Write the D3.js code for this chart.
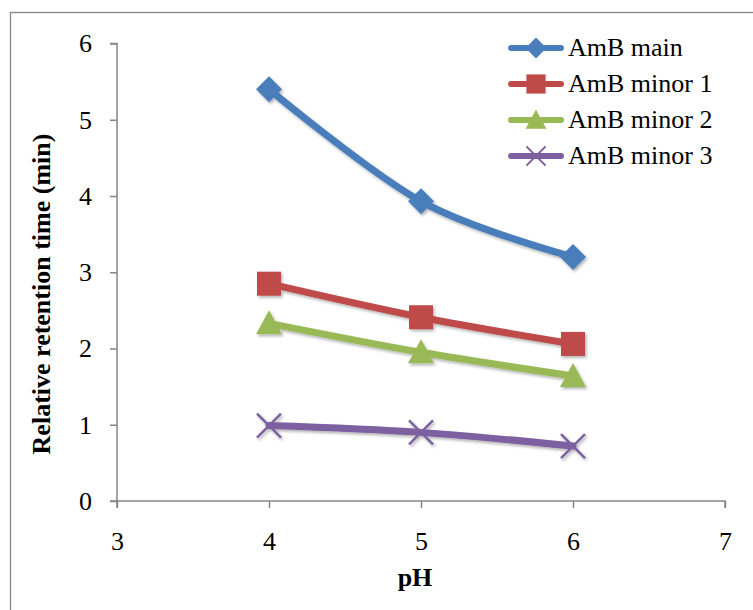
<!DOCTYPE html>
<html><head><meta charset="utf-8">
<script src="https://cdn.jsdelivr.net/npm/d3@7"></script>
<style>body{margin:0;background:#fff}</style>
</head><body>
<script>
const phValues = [4, 5, 6];
const seriesNames = ["AmB main", "AmB minor 1", "AmB minor 2", "AmB minor 3"];
const amBMain = [5.40, 3.93, 3.20];
const amBMinor1 = [2.85, 2.41, 2.06];
const amBMinor2 = [2.33, 1.95, 1.64];
const amBMinor3 = [0.99, 0.90, 0.72];
const xTicks = [3, 4, 5, 6, 7];
const yTicks = [0, 1, 2, 3, 4, 5, 6];
const colors = ["#4a7ebb", "#be4b48", "#98b954", "#7d60a0"];
const markers = ["diamond", "square", "triangle", "x"];

const W = 753, H = 610;
const svg = d3.select("body").append("svg").attr("width", W).attr("height", H);
const defs = svg.append("defs");
const f = defs.append("filter").attr("id", "sh").attr("x", "-50%").attr("y", "-50%").attr("width", "200%").attr("height", "200%");
f.append("feDropShadow").attr("dx", 1.5).attr("dy", 2).attr("stdDeviation", 1.8).attr("flood-color", "#000").attr("flood-opacity", 0.3);

svg.append("rect").attr("x", 10.5).attr("y", 12.5).attr("width", 800).attr("height", 700)
  .attr("fill", "#fff").attr("stroke", "#868686").attr("stroke-width", 1.3);

const x = d3.scaleLinear().domain([3, 7]).range([117, 725]);
const y = d3.scaleLinear().domain([0, 6]).range([501, 43.5]);
const font = "'Liberation Serif','Times New Roman',serif";
const FS = 26;

const xa = svg.append("g").attr("transform", `translate(0,${y(0)})`)
  .call(d3.axisBottom(x).tickValues(xTicks).tickSize(7).tickPadding(24).tickFormat(d3.format("d")));
const ya = svg.append("g").attr("transform", `translate(${x(3)},0)`)
  .call(d3.axisLeft(y).tickValues(yTicks).tickSize(7).tickPadding(18).tickFormat(d3.format("d")));
[xa, ya].forEach(a => {
  a.attr("font-family", font).attr("font-size", FS);
  a.select(".domain").attr("stroke", "#868686").attr("stroke-width", 1.5);
  a.selectAll(".tick line").attr("stroke", "#868686").attr("stroke-width", 1.5);
  a.selectAll("text").attr("font-family", font).attr("font-size", FS).attr("fill", "#000");
});
ya.select(".domain").attr("d", `M-7,${y(6)}H0V${y(0)}H-7`);
xa.select(".domain").attr("d", `M${x(3)},7V0H${x(7)}V7`);

svg.append("text").attr("x", 415).attr("y", 586).attr("text-anchor", "middle")
  .attr("font-family", font).attr("font-weight", "bold").attr("font-size", FS).text("pH");
svg.append("text").attr("transform", "translate(50,294) rotate(-90)").attr("text-anchor", "middle")
  .attr("font-family", font).attr("font-weight", "bold").attr("font-size", FS).text("Relative retention time (min)");

const allSeries = [amBMain, amBMinor1, amBMinor2, amBMinor3];
const line = d3.line().x((d, i) => x(phValues[i])).y(d => y(d)).curve(d3.curveCardinal.tension(0));

function drawMarker(g, type, cx, cy, color) {
  if (type === "diamond") {
    g.append("path").attr("d", `M${cx},${cy-13}L${cx+13},${cy}L${cx},${cy+13}L${cx-13},${cy}Z`).attr("fill", color);
  } else if (type === "square") {
    g.append("rect").attr("x", cx-12).attr("y", cy-12).attr("width", 24).attr("height", 24).attr("fill", color);
  } else if (type === "triangle") {
    g.append("path").attr("d", `M${cx},${cy-13}L${cx+13},${cy+11}L${cx-13},${cy+11}Z`).attr("fill", color);
  } else {
    g.append("path").attr("d", `M${cx-12},${cy-12}L${cx+12},${cy+12}M${cx+12},${cy-12}L${cx-12},${cy+12}`)
      .attr("stroke", color).attr("stroke-width", 2.5).attr("fill", "none");
  }
}

allSeries.forEach((s, k) => {
  const g = svg.append("g").attr("filter", "url(#sh)");
  g.append("path").datum(s).attr("d", line).attr("fill", "none").attr("stroke", colors[k])
    .attr("stroke-width", 7).attr("stroke-linejoin", "round").attr("stroke-linecap", "round");
  s.forEach((v, i) => drawMarker(g, markers[k], x(phValues[i]), y(v), colors[k]));
});

// legend
const legRows = [48, 84, 120, 156];
seriesNames.forEach((name, k) => {
  const g = svg.append("g");
  const cy = legRows[k];
  g.append("line").attr("x1", 511).attr("x2", 561).attr("y1", cy).attr("y2", cy)
    .attr("stroke", colors[k]).attr("stroke-width", 6).attr("stroke-linecap", "round");
  const mg = g.append("g").attr("transform", `translate(536,${cy}) scale(0.8) translate(-536,${-cy})`);
  drawMarker(mg, markers[k], 536, cy, colors[k]);
  g.append("text").attr("x", 568).attr("y", cy + 8).attr("font-family", font).attr("font-size", FS).text(name);
});
</script>
</body></html>
